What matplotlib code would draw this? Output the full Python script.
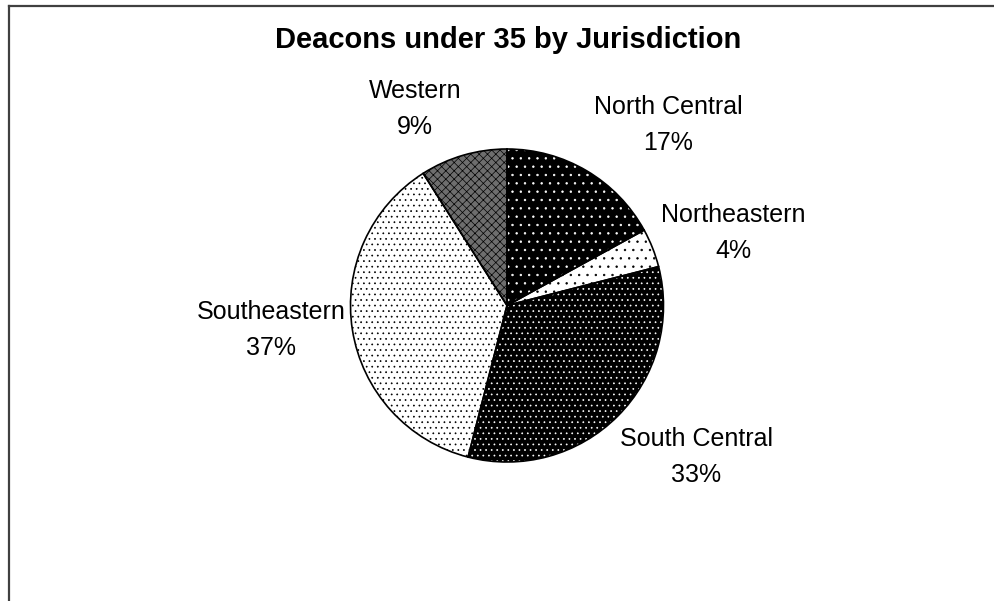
import matplotlib
matplotlib.use("Agg")
import matplotlib.pyplot as plt
from matplotlib.lines import Line2D

# data, clockwise from 12 o'clock
regions = ["North Central", "Northeastern", "South Central", "Southeastern", "Western"]
shares = [17, 4, 33, 37, 9]
title = "Deacons under 35 by Jurisdiction"

# pattern fills (face, hatch, hatch colour) - mimic the old excel b/w fills
faces = ["#000000", "#ffffff", "#000000", "#ffffff", "#6e6e6e"]
hatches = ["..", "..", "...", "...", "xxxx"]
hatch_cols = ["#ffffff", "#000000", "#ffffff", "#000000", "#000000"]

# label centres in pixels (x, y from top)
label_pos = [(668, 125), (733, 233), (696, 457), (271, 330), (415, 109)]

plt.rcParams["font.family"] = ["Liberation Sans", "DejaVu Sans"]
plt.rcParams["hatch.linewidth"] = 0.5

W, H = 994, 601
fig = plt.figure(figsize=(W / 100, H / 100), dpi=100)
ax = fig.add_axes([0, 0, 1, 1])

cx, cy, r = 507, H - 305.5, 156.5

# fills with patterns
wedges, _ = ax.pie(shares, colors=faces, hatch=hatches, startangle=90,
                   counterclock=False, center=(cx, cy), radius=r,
                   wedgeprops=dict(linewidth=0))
for w, hc in zip(wedges, hatch_cols):
    w.set_edgecolor(hc)
    w.set_linewidth(0)

# outlines on top
ax.pie(shares, colors=["none"] * len(shares), startangle=90, counterclock=False,
       center=(cx, cy), radius=r,
       wedgeprops=dict(linewidth=1.2, edgecolor="black", fill=False))

ax.set_xlim(0, W)
ax.set_ylim(0, H)
ax.set_aspect("auto")
ax.axis("off")

for name, v, (x, y) in zip(regions, shares, label_pos):
    ax.text(x, H - y, f"{name}\n{v}%", ha="center", va="center",
            fontsize=18, linespacing=1.65, color="black")

ax.text(508, H - 40, title, ha="center", va="center", fontsize=21,
        fontweight="bold")

# chart-area frame: only top and left edges are visible in the crop
fig.add_artist(Line2D([9 / W, 1], [1 - 6 / H, 1 - 6 / H], color="#404040", lw=1.6))
fig.add_artist(Line2D([9 / W, 9 / W], [0, 1 - 6 / H], color="#404040", lw=1.6))

fig.savefig("out.png", dpi=100)
